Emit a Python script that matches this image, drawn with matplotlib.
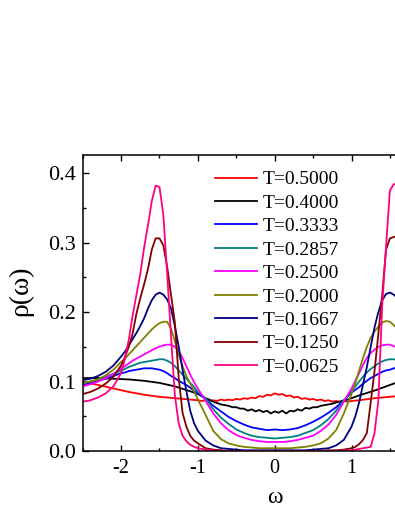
import numpy as np
import matplotlib
matplotlib.use("Agg")
import matplotlib.pyplot as plt
from matplotlib.ticker import MultipleLocator

plt.rcParams['font.family'] = ['Liberation Serif', 'DejaVu Serif']
plt.rcParams['axes.unicode_minus'] = False

# frequency grid for the smooth curves
w = [-2.5, -2.4, -2.3, -2.2, -2.1, -2.0,
     -1.95, -1.9, -1.85, -1.8, -1.75, -1.7, -1.65, -1.6, -1.55, -1.5,
     -1.45, -1.4, -1.35, -1.3, -1.25, -1.2, -1.15, -1.1, -1.05, -1.0,
     -0.9, -0.8, -0.7, -0.6, -0.5, -0.4, -0.3, -0.2, -0.1, 0.0,
     0.1, 0.2, 0.3, 0.4, 0.5, 0.6, 0.7, 0.8, 0.9,
     1.0, 1.05, 1.1, 1.15, 1.2, 1.25, 1.3, 1.35, 1.4, 1.45, 1.5, 1.55, 1.6]

# finer grid in the middle for the noisy high-T curves
w_noisy = [-2.5, -2.3, -2.1, -1.9, -1.7, -1.5, -1.3, -1.1,
           -1.0, -0.95, -0.9, -0.85, -0.8, -0.75, -0.7, -0.65, -0.6, -0.55,
           -0.5, -0.45, -0.4, -0.35, -0.3, -0.25, -0.2, -0.15, -0.1, -0.05,
           0.0, 0.05, 0.1, 0.15, 0.2, 0.25, 0.3, 0.35, 0.4, 0.45, 0.5,
           0.55, 0.6, 0.65, 0.7, 0.75, 0.8, 0.85, 0.9, 0.95, 1.0,
           1.1, 1.3, 1.5, 1.6]

rho_5000 = [0.100, 0.095, 0.090, 0.085, 0.081, 0.078, 0.076, 0.074,
            0.073, 0.072, 0.073, 0.072, 0.073, 0.072, 0.074, 0.073, 0.074, 0.073,
            0.075, 0.074, 0.076, 0.075, 0.077, 0.076, 0.079, 0.078, 0.081, 0.080,
            0.083, 0.081, 0.082, 0.079, 0.080, 0.077, 0.078, 0.075, 0.076, 0.074, 0.075,
            0.073, 0.074, 0.072, 0.073, 0.071, 0.072, 0.071, 0.072, 0.071, 0.072,
            0.073, 0.076, 0.078, 0.079]

rho_4000 = [0.105, 0.105, 0.104, 0.103, 0.101, 0.098, 0.093, 0.086,
            0.082, 0.079, 0.076, 0.074, 0.071, 0.069, 0.067, 0.066, 0.065, 0.063,
            0.063, 0.061, 0.061, 0.058, 0.060, 0.057, 0.059, 0.056, 0.058, 0.054,
            0.057, 0.055, 0.058, 0.054, 0.058, 0.057, 0.060, 0.058, 0.062, 0.061, 0.063,
            0.063, 0.065, 0.066, 0.067, 0.068, 0.070, 0.071, 0.073, 0.074, 0.076,
            0.080, 0.087, 0.095, 0.099]

rho_3333 = [0.095, 0.098, 0.101, 0.104, 0.108, 0.112,
            0.113, 0.115, 0.116, 0.117, 0.118, 0.119, 0.119, 0.119, 0.118, 0.117,
            0.115, 0.112, 0.108, 0.105, 0.101, 0.098, 0.095, 0.091, 0.087, 0.083,
            0.075, 0.065, 0.057, 0.049, 0.043, 0.038, 0.034, 0.032, 0.030, 0.031,
            0.030, 0.031, 0.033, 0.037, 0.042, 0.048, 0.055, 0.063, 0.073,
            0.084, 0.088, 0.092, 0.097, 0.101, 0.105, 0.108, 0.111, 0.114, 0.116, 0.117, 0.119, 0.120]

rho_2857 = [0.097, 0.100, 0.103, 0.107, 0.111, 0.116,
            0.118, 0.121, 0.123, 0.125, 0.127, 0.128, 0.129, 0.130, 0.131, 0.132,
            0.132, 0.130, 0.127, 0.122, 0.116, 0.110, 0.104, 0.098, 0.092, 0.085,
            0.076, 0.060, 0.048, 0.039, 0.031, 0.026, 0.022, 0.020, 0.019, 0.018,
            0.019, 0.020, 0.022, 0.026, 0.030, 0.037, 0.046, 0.058, 0.073,
            0.086, 0.093, 0.100, 0.107, 0.113, 0.118, 0.122, 0.126, 0.129, 0.131, 0.132, 0.132, 0.131]

rho_2500 = [0.093, 0.096, 0.100, 0.105, 0.111, 0.119,
            0.122, 0.126, 0.130, 0.133, 0.136, 0.139, 0.142, 0.145, 0.148, 0.150,
            0.152, 0.153, 0.153, 0.150, 0.143, 0.134, 0.122, 0.110, 0.099, 0.090,
            0.072, 0.054, 0.040, 0.030, 0.023, 0.019, 0.016, 0.014, 0.013, 0.013,
            0.013, 0.014, 0.016, 0.019, 0.022, 0.029, 0.038, 0.052, 0.071,
            0.090, 0.101, 0.112, 0.124, 0.134, 0.141, 0.146, 0.150, 0.152, 0.153, 0.153, 0.151, 0.148]

rho_2000 = [0.098, 0.100, 0.103, 0.109, 0.117, 0.128,
            0.133, 0.139, 0.145, 0.151, 0.157, 0.163, 0.169, 0.175, 0.180, 0.184,
            0.186, 0.186, 0.176, 0.158, 0.139, 0.122, 0.108, 0.097, 0.086, 0.074,
            0.052, 0.029, 0.017, 0.011, 0.008, 0.006, 0.005, 0.004, 0.004, 0.004,
            0.004, 0.004, 0.005, 0.006, 0.008, 0.011, 0.018, 0.030, 0.054,
            0.082, 0.098, 0.116, 0.134, 0.150, 0.163, 0.172, 0.179, 0.185, 0.187, 0.186, 0.181, 0.176]

rho_1667 = [0.102, 0.104, 0.108, 0.114, 0.123, 0.136,
            0.143, 0.152, 0.161, 0.170, 0.180, 0.191, 0.205, 0.217, 0.225, 0.228,
            0.225, 0.218, 0.205, 0.180, 0.150, 0.117, 0.086, 0.058, 0.040, 0.029,
            0.015, 0.008, 0.004, 0.003, 0.002, 0.001, 0.001, 0.001, 0.001, 0.001,
            0.001, 0.001, 0.001, 0.001, 0.002, 0.003, 0.004, 0.008, 0.016,
            0.035, 0.050, 0.070, 0.096, 0.121, 0.150, 0.178, 0.200, 0.217, 0.226, 0.228, 0.225, 0.220]

rho_1250 = [0.082, 0.085, 0.090, 0.097, 0.107, 0.123,
            0.135, 0.150, 0.169, 0.198, 0.220, 0.240, 0.262, 0.290, 0.306, 0.306,
            0.296, 0.265, 0.225, 0.185, 0.105, 0.055, 0.035, 0.022, 0.015, 0.011,
            0.004, 0.002, 0.001, 0.000, 0.000, 0.000, 0.000, 0.000, 0.000, 0.000,
            0.000, 0.000, 0.000, 0.000, 0.000, 0.000, 0.001, 0.001, 0.002,
            0.004, 0.006, 0.010, 0.016, 0.026, 0.070, 0.115, 0.169, 0.225, 0.290, 0.306, 0.308, 0.309]

rho_0625 = [0.071, 0.073, 0.077, 0.083, 0.093, 0.112,
            0.133, 0.160, 0.195, 0.225, 0.255, 0.293, 0.325, 0.360, 0.382, 0.380,
            0.340, 0.255, 0.165, 0.080, 0.040, 0.022, 0.014, 0.009, 0.006, 0.004,
            0.002, 0.001, 0.000, 0.000, 0.000, 0.000, 0.000, 0.000, 0.000, 0.000,
            0.000, 0.000, 0.000, 0.000, 0.000, 0.000, 0.000, 0.000, 0.001,
            0.001, 0.002, 0.003, 0.004, 0.005, 0.006, 0.026, 0.073, 0.210, 0.295, 0.375, 0.384, 0.384]

labels = ['T=0.5000', 'T=0.4000', 'T=0.3333', 'T=0.2857', 'T=0.2500',
          'T=0.2000', 'T=0.1667', 'T=0.1250', 'T=0.0625']
colors = ['#ff0000', '#000000', '#0000ff', '#008080', '#ff00ff',
          '#808000', '#000080', '#800000', '#ff0080']

series = [(w_noisy, rho_5000), (w_noisy, rho_4000), (w, rho_3333), (w, rho_2857),
          (w, rho_2500), (w, rho_2000), (w, rho_1667), (w, rho_1250), (w, rho_0625)]

xticks = [-2, -1, 0, 1, 2]
xticklabels = ['-2', '-1', '0', '1', '']   # the 2 label falls outside the cropped figure

fig = plt.figure(figsize=(3.95, 5.11), dpi=100)
ax = fig.add_axes([82.7 / 395, 1 - 451 / 511, 384 / 395, 296 / 511])

for (xx, yy), c, lab in zip(series, colors, labels):
    ax.plot(xx, yy, color=c, lw=1.3, label=lab)

ax.set_xlim(-2.5, 2.5)
ax.set_ylim(0, 0.426)
ax.set_xticks(xticks)
ax.set_xticklabels(xticklabels)
ax.xaxis.set_minor_locator(MultipleLocator(0.5))
ax.yaxis.set_major_locator(MultipleLocator(0.1))
ax.yaxis.set_minor_locator(MultipleLocator(0.05))
ax.yaxis.set_major_formatter(matplotlib.ticker.FormatStrFormatter('%.1f'))
ax.tick_params(which='both', direction='in', top=True, right=True, width=1)
ax.tick_params(which='major', length=4.5)
ax.tick_params(which='minor', length=2.5)
ax.tick_params(axis='x', which='major', labelsize=14.5, pad=6)
ax.tick_params(axis='y', which='major', labelsize=16, pad=5)
for s in ax.spines.values():
    s.set_linewidth(1.1)

ax.set_xlabel('ω', fontsize=17, labelpad=6)
ax.set_ylabel('ρ(ω)', fontsize=20)
ax.yaxis.set_label_coords(-0.128, 0.54)

ax.legend(loc='upper left', bbox_to_anchor=(0.323, 0.973), frameon=False, fontsize=14,
          handlelength=2.2, handletextpad=0.3, labelspacing=0.3, borderaxespad=0)

fig.savefig('out.png', dpi=100)
